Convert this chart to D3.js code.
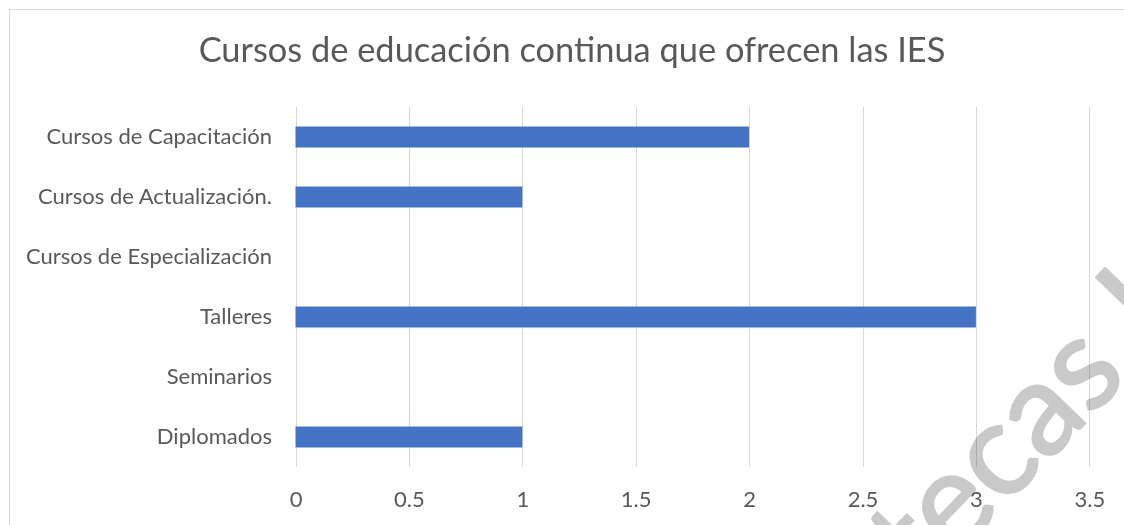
<html>
<head>
<script src="https://d3js.org/d3.v7.min.js"></script>
<style>
body { margin: 0; background: #fff; }
svg { display: block; font-family: Lato, 'Open Sans', sans-serif; }
</style>
</head>
<body>
<svg></svg>
<script>

var width = 1124;
var height = 525;

// data
var categories = ["Cursos de Capacitación", "Cursos de Actualización.", "Cursos de Especialización", "Talleres", "Seminarios", "Diplomados"];
var values = [2, 1, 0, 3, 0, 1];
var ticks = [0, 0.5, 1, 1.5, 2, 2.5, 3, 3.5];
var title = "Cursos de educación continua que ofrecen las IES";

var svg = d3.select("svg").attr("width", width).attr("height", height);

// chart border
svg.append("rect")
.attr("x", 9.5).attr("y", 9.5)
.attr("width", 1130).attr("height", 540)
.style("fill", "none").style("stroke", "#d9d9d9");

var xScale = d3.scaleLinear()
.domain([0, 3.5])
.range([295.5, 1089.3]);
var yScale = d3.scaleBand()
.domain(categories)
.range([107, 467])
.paddingInner(0.65)
.paddingOuter(0.325);

svg.append("text")
.attr("x", 572).attr("y", 62)
.attr("text-anchor", "middle")
.style("font-size", "34.4px")
.style("fill", "#595959")
.text(title);

// gridlines
svg.selectAll("line.grid").data(ticks).enter().append("line")
.attr("class", "grid")
.attr("x1", function(d) { return Math.round(xScale(d)) + 0.5; })
.attr("x2", function(d) { return Math.round(xScale(d)) + 0.5; })
.attr("y1", 107).attr("y2", 467)
.style("stroke", "#d9d9d9").style("stroke-width", 1);

// bars
svg.selectAll("rect.bar").data(values).enter().append("rect")
.attr("class", "bar")
.attr("x", xScale(0))
.attr("y", function(d, i) { return yScale(categories[i]); })
.attr("width", function(d) { return xScale(d) - xScale(0); })
.attr("height", yScale.bandwidth())
.style("fill", "#4472c4");

// x axis labels
var xAxis = d3.axisBottom(xScale).tickValues(ticks).tickSize(0).tickPadding(0)
.tickFormat(function(d) { return String(d); });
var gx = svg.append("g").attr("transform", "translate(0,491)").call(xAxis);
gx.select(".domain").remove();
gx.selectAll("text").style("font-size", "22px").style("fill", "#595959").style("font-family", "Lato, sans-serif");

// category labels
var yAxis = d3.axisLeft(yScale).tickSize(0).tickPadding(0);
var gy = svg.append("g").attr("transform", "translate(272,0)").call(yAxis);
gy.select(".domain").remove();
gy.selectAll("text").style("font-size", "22px").style("fill", "#595959").style("font-family", "Lato, sans-serif");

// watermark (only part of it is inside the picture)
var wm = svg.append("text")
.attr("transform", "translate(923,591) rotate(-46)")
.style("font-size", "130px")
.style("fill", "#c9c9c9").style("stroke", "#c9c9c9").style("stroke-width", 2.5)
.style("mix-blend-mode", "multiply");
wm.append("tspan").text("tecas");
wm.append("tspan").attr("dx", 40).text("UNAM");

</script>
</body>
</html>
